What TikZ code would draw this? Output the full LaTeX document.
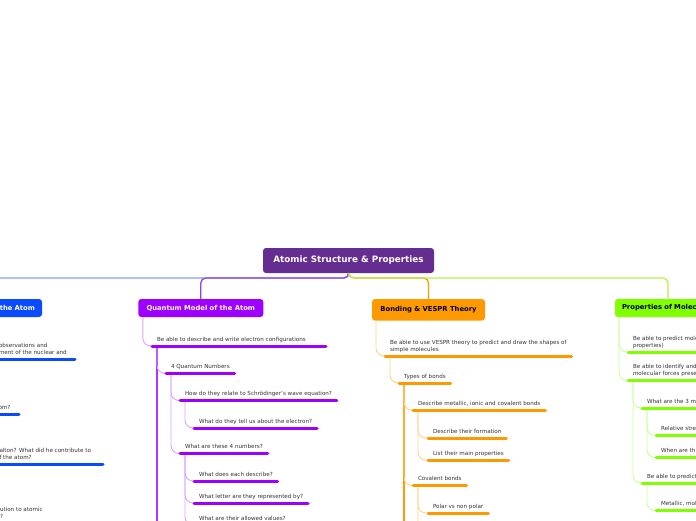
\documentclass[tikz,border=0pt]{standalone}
\usepackage{fontspec}
\setmainfont{DejaVu Sans}
\definecolor{rootc}{HTML}{662D91}
\definecolor{bluec}{HTML}{0A4BFF}
\definecolor{bluel}{HTML}{7FA4F5}
\definecolor{purc}{HTML}{9D00FF}
\definecolor{purm}{HTML}{9040F0}
\definecolor{purl}{HTML}{D9A6FF}
\definecolor{oranc}{HTML}{FF9900}
\definecolor{oranl}{HTML}{FFD28A}
\definecolor{greenc}{HTML}{80FF00}
\definecolor{greenm}{HTML}{B8F050}
\definecolor{greenl}{HTML}{C8FF99}
\definecolor{txt}{HTML}{333333}
\begin{document}
\begin{tikzpicture}[x=1pt,y=-1pt,
  every node/.style={outer sep=0pt},
  root/.style={fill=rootc, rounded corners=3pt, text=white, font=\bfseries\fontsize{8.8}{10}\selectfont, minimum width=171pt, minimum height=25pt, inner sep=0pt},
  branch/.style={rounded corners=3pt, font=\bfseries\fontsize{6.8}{8}\selectfont, inner xsep=7pt, inner ysep=0pt, minimum height=18pt},
  topic/.style={anchor=south west, inner xsep=5pt, inner ysep=5pt, text depth=0pt, font=\fontsize{5.6}{6.6}\selectfont, text=txt, align=left},
  ul/.style={line width=3pt, line cap=round},
  link/.style={line width=0.9pt, rounded corners=8pt},
  main/.style={line width=1.3pt, rounded corners=5pt},
]
\useasboundingbox (0,0) rectangle (696,520);
\clip (0,0) rectangle (696,520);
\fill[white] (0,0) rectangle (696,520);

% root and branches
\node[root] (root) at (348.5,260.5) {Atomic Structure \& Properties};
\node[branch, fill=bluec, text=white, anchor=east, text width=120pt, align=right] (ha) at (42,308) {the Atom};
\node[branch, fill=purc, text=white, minimum width=125pt] (qm) at (200.8,308) {Quantum Model of the Atom};
\node[branch, fill=oranc, text=black, minimum width=113pt, minimum height=21.5pt] (bv) at (428.5,309.8) {Bonding \& VESPR Theory};
\node[branch, fill=greenc, text=black, anchor=west, text width=92pt, align=left] (pm) at (615,308) {Properties of Molec};

\draw[main, bluel] (root.south) -- (349,278) -| (ha.north);
\draw[main, purm] (root.south) -- (349,278) -| (qm.north);
\draw[main, oranc] (root.south) -- (349,278) -| (bv.north);
\draw[main, greenm] (root.south) -- (349,278) -| (pm.north);

% blue branch (left, cut off)
\node[topic] (h1) at (-6,359) {observations and\\ment of the nuclear and};
\node[topic] (h2) at (-6.5,414) {om?};
\node[topic] (h3) at (-5.5,464) {alton? What did he contribute to\\f the atom?};
\node[topic] (h4) at (-5,523) {ution to atomic\\?};
\draw[ul, bluec] (h1.south west) -- ++(81,0);
\draw[ul, bluec] (h2.south west) -- ++(25.5,0);
\draw[ul, bluec] (h3.south west) -- ++(108.5,0);

% purple branch
\node[topic] (q1) at (152,346) {Be able to describe and write electron configurations};
\node[topic] (q2) at (166,373.5) {4 Quantum Numbers};
\node[topic] (q3) at (180,400.5) {How do they relate to Schrödinger's wave equation?};
\node[topic] (q4) at (194,428) {What do they tell us about the electron?};
\node[topic] (q5) at (180,453.5) {What are these 4 numbers?};
\node[topic] (q6) at (194,481) {What does each describe?};
\node[topic] (q7) at (194,503) {What letter are they represented by?};
\node[topic] (q8) at (194,525) {What are their allowed values?};
\draw[link, purl] ([xshift=4.5pt]qm.south west) |- (q1.south west);
\draw[line width=2pt, purc!80] ([xshift=5pt]q1.south west) -- ++(0,190);
\draw[link, purl] ([xshift=5pt]q1.south west) |- (q2.south west);
\draw[link, purl] ([xshift=5pt]q2.south west) |- (q3.south west);
\draw[link, purl] ([xshift=5pt]q3.south west) |- (q4.south west);
\draw[link, purl] ([xshift=5pt]q2.south west) |- (q5.south west);
\draw[link, purl] ([xshift=5pt]q5.south west) |- (q6.south west);
\draw[link, purl] ([xshift=5pt]q5.south west) |- (q7.south west);
\draw[link, purl] ([xshift=5pt]q5.south west) |- (q8.south west);
\draw[ul, purc] (q1.south west) -- ++(174,0);
\foreach \n in {q2,q3,q4,q5,q6,q7,q8}
  \draw[ul, purc] (\n.south west) -- (\n.south east);

% orange branch
\node[topic] (b1) at (385,356) {Be able to use VESPR theory to predict and draw the shapes of\\simple molecules};
\node[topic] (b2) at (399,383) {Types of bonds};
\node[topic] (b3) at (413,410) {Describe metallic, ionic and covalent bonds};
\node[topic] (b4) at (428,438) {Describe their formation};
\node[topic] (b5) at (428,460) {List their main properties};
\node[topic] (b6) at (413,485.5) {Covalent bonds};
\node[topic] (b7) at (428,513) {Polar vs non polar};
\coordinate (b8) at (428,545);
\draw[link, oranl] ([xshift=4pt]bv.south west) |- (b1.south west);
\draw[link, oranl] ([xshift=5pt]b1.south west) |- (b2.south west);
\draw[line width=2pt, oranc] ([xshift=5pt]b2.south west) -- ++(0,150);
\draw[link, oranl] ([xshift=5pt]b2.south west) |- (b3.south west);
\draw[link, oranl] ([xshift=5pt]b3.south west) |- (b4.south west);
\draw[link, oranl] ([xshift=5pt]b3.south west) |- (b5.south west);
\draw[link, oranl] ([xshift=5pt]b2.south west) |- (b6.south west);
\draw[link, oranl] ([xshift=5pt]b6.south west) |- (b7.south west);
\draw[link, oranl] ([xshift=5pt]b6.south west) |- (b8);
\foreach \n in {b1,b2,b3,b4,b5,b6,b7}
  \draw[ul, oranc] (\n.south west) -- (\n.south east);

% green branch (right, cut off)
\node[topic] (g1) at (628,352) {Be able to predict mole\\properties)};
\node[topic] (g2) at (628,380.5) {Be able to identify and\\molecular forces prese};
\node[topic] (g3) at (642,408) {What are the 3 m};
\node[topic] (g4) at (656,435.5) {Relative stre};
\node[topic] (g5) at (656,457.5) {When are th};
\node[topic] (g6) at (642,483) {Be able to predict};
\node[topic] (g7) at (656,510.5) {Metallic, mol};
\draw[link, greenl] ([xshift=4pt]pm.south west) |- (g1.south west);
\draw[link, greenl] ([xshift=4pt]pm.south west) |- (g2.south west);
\draw[link, greenl] ([xshift=5pt]g2.south west) |- (g3.south west);
\draw[link, greenl] ([xshift=5pt]g3.south west) |- (g4.south west);
\draw[link, greenl] ([xshift=5pt]g3.south west) |- (g5.south west);
\draw[link, greenl] ([xshift=5pt]g2.south west) |- (g6.south west);
\draw[link, greenl] ([xshift=5pt]g6.south west) |- (g7.south west);
\foreach \n in {g1,g2,g3,g4,g5,g6,g7}
  \draw[ul, greenc] (\n.south west) -- ++(100,0);
\end{tikzpicture}
\end{document}
